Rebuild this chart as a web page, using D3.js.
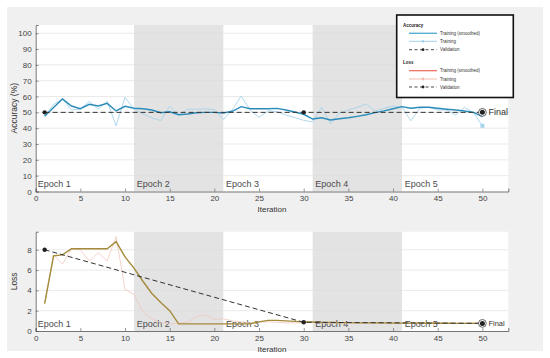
<!DOCTYPE html>
<html>
<head>
<meta charset="utf-8">
<script src="https://cdn.jsdelivr.net/npm/d3@7"></script>
<style>
  body { margin: 0; background: #fff; }
  svg { font-family: Arial, "Liberation Sans", sans-serif; }
</style>
</head>
<body>
<script>
/* Data */
const iterations = d3.range(1, 51);
const epochStarts = [0, 11, 21, 31, 41];
const epochNames = ["Epoch 1", "Epoch 2", "Epoch 3", "Epoch 4", "Epoch 5"];
const xTicks = [0, 5, 10, 15, 20, 25, 30, 35, 40, 45, 50];
const accTicks = [0, 10, 20, 30, 40, 50, 60, 70, 80, 90, 100];
const lossTicks = [0, 2, 4, 6, 8];

const accSmooth = [47.5, 53, 58.5, 54, 52.3, 55.1, 54, 55.7, 50.9, 53.8,
  52.6, 52.3, 51.5, 49.8, 50.4, 48.5, 49, 49.8, 50, 50,
  49.6, 50.7, 53.6, 52.3, 52.3, 52.3, 52.5, 51.5, 50.2, 48.8,
  45.8, 46.6, 45.2, 46, 46.6, 47.5, 48.5, 49.8, 50.9, 52.3,
  53.6, 52.6, 53.2, 53.2, 52.6, 52, 51.5, 50.9, 50, 47.3];
const accRaw = [47.5, 55, 58.5, 51.5, 52, 57, 52, 57, 41.5, 59.5,
  52, 49, 46.5, 44.8, 54, 48.3, 52, 52, 52.2, 51.8,
  45.5, 51.5, 60.3, 51.5, 46.8, 51, 50.5, 48.3, 46.7, 45,
  43.9, 53.2, 42.8, 49.6, 51.5, 53.2, 55.3, 50.9, 52.6, 54,
  53.2, 44.7, 52.6, 53.2, 51.5, 51.5, 48.3, 53.2, 49.8, 41.5];
const lossSmooth = [2.7, 7.4, 7.5, 8.1, 8.1, 8.1, 8.1, 8.1, 8.8, 7.3,
  6.2, 4.9, 3.7, 2.8, 2.0, 0.7, 0.7, 0.7, 0.7, 0.7,
  0.7, 0.7, 0.7, 0.7, 0.9, 1.05, 1.05, 1.0, 0.95, 0.9,
  0.88, 0.85, 0.85, 0.82, 0.82, 0.8, 0.8, 0.8, 0.8, 0.78,
  0.78, 0.78, 0.78, 0.76, 0.76, 0.76, 0.75, 0.75, 0.75, 0.75];
const lossRaw = [2.7, 7.5, 6.6, 8.1, 8.0, 6.9, 7.7, 6.9, 9.3, 4.1,
  3.6, 1.9, 1.2, 0.8, 0.7, 0.75, 0.9, 1.4, 1.6, 1.1,
  1.2, 1.0, 0.9, 0.8, 0.9, 0.9, 0.85, 0.8, 0.8, 0.8,
  0.85, 0.8, 0.75, 0.8, 0.8, 0.75, 0.8, 0.75, 0.75, 0.8,
  0.75, 0.8, 0.75, 0.75, 0.8, 0.75, 0.75, 0.75, 0.8, 0.75];
const valIter = [1, 30, 50];
const valAcc = [50, 50, 50];
const valLoss = [8.0, 0.86, 0.75];

/* Constants */
const w = 550, h = 358;
const left = 35.7, right = 508.3;

const svg = d3.select("body").append("svg")
  .attr("width", w)
  .attr("height", h);

svg.append("rect")
  .attr("x", 7).attr("y", 7)
  .attr("width", 536).attr("height", 344)
  .attr("fill", "#f0f0f0");

const xScale = d3.scaleLinear().domain([0, 52.9]).range([left, right]);

let drawPanel = (cfg) => {
  const y = d3.scaleLinear().domain(cfg.domain).range([cfg.bottom, cfg.top]);
  const g = svg.append("g");

  g.append("rect")
    .attr("x", left).attr("y", cfg.top)
    .attr("width", right - left).attr("height", cfg.bottom - cfg.top)
    .attr("fill", "#fff");

  // epoch shading
  g.selectAll(".band")
    .data([1, 3])
    .enter().append("rect")
    .attr("x", i => xScale(epochStarts[i]))
    .attr("y", cfg.top)
    .attr("width", i => xScale(epochStarts[i + 1]) - xScale(epochStarts[i]))
    .attr("height", cfg.bottom - cfg.top)
    .attr("fill", "#e3e3e3");

  // grid
  g.selectAll(".grid")
    .data(cfg.ticks.filter(t => t > 0))
    .enter().append("line")
    .attr("x1", left).attr("x2", right)
    .attr("y1", d => y(d)).attr("y2", d => y(d))
    .attr("stroke", "#dcdcdc")
    .attr("stroke-width", 0.6);

  // axes
  const xAxis = d3.axisBottom(xScale).tickValues(xTicks).tickSize(-3).tickPadding(5);
  const yAxis = d3.axisLeft(y).tickValues(cfg.ticks).tickSize(-3).tickPadding(4);

  const gx = g.append("g")
    .attr("transform", "translate(0," + cfg.bottom + ")")
    .call(xAxis);
  const gy = g.append("g")
    .attr("transform", "translate(" + left + ",0)")
    .call(yAxis);
  [gx, gy].forEach(a => {
    a.select(".domain").attr("stroke", "#555").attr("stroke-width", 0.8);
    a.selectAll(".tick line").attr("stroke", "#555").attr("stroke-width", 0.6);
    a.selectAll("text").attr("fill", "#444").style("font-size", "8px");
  });
  gx.selectAll("text").attr("dy", "0.6em");

  // epoch labels
  g.selectAll(".ep")
    .data(epochNames)
    .enter().append("text")
    .attr("x", (d, i) => xScale(epochStarts[i]) + (i == 0 ? 2 : 2.7))
    .attr("y", cfg.bottom - 4.5)
    .attr("fill", "#4a4a4a")
    .style("font-size", "9px")
    .text(d => d);

  // labels
  g.append("text")
    .attr("transform", "translate(17," + ((cfg.top + cfg.bottom) / 2) + ") rotate(-90)")
    .attr("text-anchor", "middle")
    .attr("fill", "#333")
    .style("font-size", "8.5px")
    .text(cfg.label);
  g.append("text")
    .attr("x", (left + right) / 2)
    .attr("y", cfg.bottom + 20.5)
    .attr("text-anchor", "middle")
    .attr("fill", "#333")
    .style("font-size", "8px")
    .text("Iteration");

  const line = d3.line().x((d, i) => xScale(iterations[i])).y(d => y(d));

  g.append("path").datum(cfg.raw)
    .attr("d", line).attr("fill", "none")
    .attr("stroke", cfg.rawColor).attr("stroke-width", 1)
    .attr("opacity", cfg.rawOpacity);

  g.append("path").datum(cfg.smooth)
    .attr("d", line).attr("fill", "none")
    .attr("stroke", cfg.smoothColor).attr("stroke-width", 1.4);

  // validation
  const vline = d3.line().x((d, i) => xScale(valIter[i])).y(d => y(d));
  g.append("path").datum(cfg.val)
    .attr("d", vline).attr("fill", "none")
    .attr("stroke", "#333").attr("stroke-width", 1)
    .attr("stroke-dasharray", "5,3");

  g.selectAll(".vdot")
    .data(cfg.val.slice(0, 2))
    .enter().append("circle")
    .attr("cx", (d, i) => xScale(valIter[i]))
    .attr("cy", d => y(d))
    .attr("r", 2.2)
    .attr("fill", "#222");

  if (cfg.finalRaw) {
    g.append("rect")
      .attr("x", xScale(50) - 2).attr("y", y(cfg.raw[49]) - 2)
      .attr("width", 4).attr("height", 4)
      .attr("fill", "#a6d3ea");
  }

  // final
  const fx = xScale(50), fy = y(cfg.val[2]);
  g.append("circle").attr("cx", fx).attr("cy", fy).attr("r", 3.9)
    .attr("fill", "#fff").attr("stroke", "#444").attr("stroke-width", 0.8);
  g.append("circle").attr("cx", fx).attr("cy", fy).attr("r", 2.5)
    .attr("fill", "#222");
  g.append("text")
    .attr("x", fx + 6).attr("y", fy + 3)
    .attr("fill", "#333")
    .style("font-size", cfg.finalSize)
    .text("Final");
};

drawPanel({
  top: 25, bottom: 191.5, domain: [0, 105.2], ticks: accTicks,
  label: "Accuracy (%)", raw: accRaw, smooth: accSmooth, val: valAcc,
  rawColor: "#a6d3ea", rawOpacity: 0.9, smoothColor: "#2b8cba",
  finalRaw: true, finalSize: "9px"
});

drawPanel({
  top: 231.7, bottom: 331, domain: [0, 9.78], ticks: lossTicks,
  label: "Loss", raw: lossRaw, smooth: lossSmooth, val: valLoss,
  rawColor: "#efc9bd", rawOpacity: 0.8, smoothColor: "#a48a3a",
  finalRaw: false, finalSize: "7.5px"
});

/* Legend */
const legend = svg.append("g");
legend.append("rect")
  .attr("x", 396.7).attr("y", 15)
  .attr("width", 116.6).attr("height", 82.5)
  .attr("fill", "#fff").attr("stroke", "#111").attr("stroke-width", 1.6);

const legendRows = [
  { t: "Accuracy", y: 26.5, head: true },
  { t: "Training (smoothed)", y: 33.3, color: "#5aafd2", width: 1.4 },
  { t: "Training", y: 41.3, color: "#a6d3ea", width: 1, dot: "#a6d3ea" },
  { t: "Validation", y: 49.7, color: "#333", width: 0.9, dash: "3,2.5", dot: "#222" },
  { t: "Loss", y: 63.5, head: true },
  { t: "Training (smoothed)", y: 70.7, color: "#ea6a5c", width: 1.2 },
  { t: "Training", y: 79, color: "#f4bdb0", width: 1, dot: "#f4bdb0" },
  { t: "Validation", y: 87, color: "#333", width: 0.9, dash: "3,2.5", dot: "#222" }
];

legendRows.forEach(r => {
  if (r.head) {
    legend.append("text")
      .attr("x", 403).attr("y", r.y)
      .attr("font-weight", "bold")
      .attr("fill", "#222")
      .style("font-size", "4.5px")
      .text(r.t);
    return;
  }
  legend.append("line")
    .attr("x1", 409).attr("x2", 437)
    .attr("y1", r.y).attr("y2", r.y)
    .attr("stroke", r.color).attr("stroke-width", r.width)
    .attr("stroke-dasharray", r.dash || null);
  if (r.dot) {
    legend.append("circle")
      .attr("cx", 423).attr("cy", r.y).attr("r", 1.4)
      .attr("fill", r.dot);
  }
  legend.append("text")
    .attr("x", 440).attr("y", r.y + 1.5)
    .attr("fill", "#333")
    .style("font-size", "4.5px")
    .text(r.t);
});
</script>
</body>
</html>
